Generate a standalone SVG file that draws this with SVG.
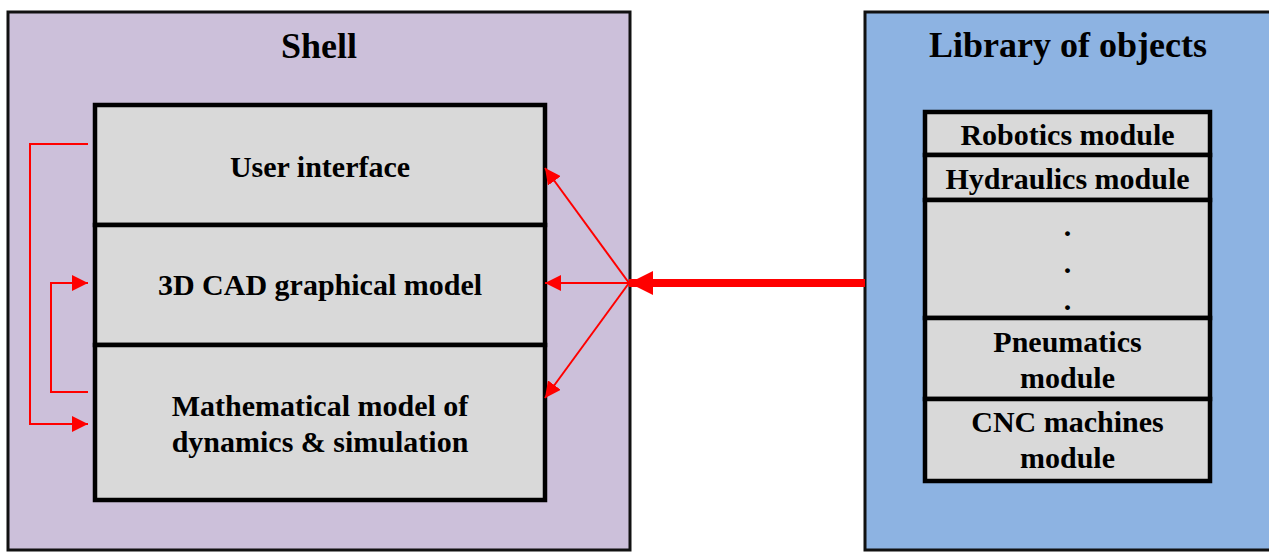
<svg xmlns="http://www.w3.org/2000/svg" width="1269" height="552" viewBox="0 0 1269 552">
  <style>
    .frame { stroke: #111; stroke-width: 3; }
    .shell { fill: #ccc0da; }
    .lib { fill: #8db3e2; }
    .cell { fill: #d9d9d9; stroke: #000; stroke-width: 4.5; }
    .sep { stroke: #000; stroke-width: 4.5; }
    .title { font-family: "Liberation Serif", "Times New Roman", serif; font-weight: bold; font-size: 36px; text-anchor: middle; fill: #000; }
    .label { font-family: "Liberation Serif", "Times New Roman", serif; font-weight: bold; font-size: 30px; text-anchor: middle; fill: #000; }
    .link { fill: none; stroke: #ff0000; stroke-width: 2; }
    .main { fill: none; stroke: #ff0000; stroke-width: 8; }
  </style>
  <defs>
    <marker id="head" viewBox="0 0 16 16" refX="16" refY="8" markerWidth="16" markerHeight="16" markerUnits="userSpaceOnUse" orient="auto">
      <path d="M0,0 L16,8 L0,16 z" fill="#ff0000"/>
    </marker>
    <marker id="bighead" viewBox="0 0 24 24" refX="24" refY="12" markerWidth="24" markerHeight="24" markerUnits="userSpaceOnUse" orient="auto">
      <path d="M0,0 L24,12 L0,24 z" fill="#ff0000"/>
    </marker>
  </defs>

  <rect width="1269" height="552" fill="#ffffff"/>

  <!-- Shell container -->
  <g id="shell">
    <rect class="shell frame" x="8" y="12" width="622" height="538"/>
    <text class="title" x="319" y="58">Shell</text>
  </g>

  <!-- Shell layers -->
  <g id="user-interface">
    <rect class="cell" x="95" y="105" width="450" height="120"/>
    <text class="label" x="320" y="177">User interface</text>
  </g>
  <g id="cad-model">
    <rect class="cell" x="95" y="225" width="450" height="120"/>
    <text class="label" x="320" y="295">3D CAD graphical model</text>
  </g>
  <g id="math-model">
    <rect class="cell" x="95" y="345" width="450" height="155"/>
    <text class="label" x="320" y="416">Mathematical model of</text>
    <text class="label" x="320" y="452">dynamics &amp; simulation</text>
  </g>

  <!-- Library container -->
  <g id="library">
    <rect class="lib frame" x="865" y="12" width="410" height="538"/>
    <text class="title" x="1068" y="57">Library of objects</text>
  </g>

  <!-- Library modules -->
  <g id="robotics">
    <rect class="cell" x="925" y="112" width="285" height="43"/>
    <text class="label" x="1067.5" y="145">Robotics module</text>
  </g>
  <g id="hydraulics">
    <rect class="cell" x="925" y="155" width="285" height="45"/>
    <text class="label" x="1067.5" y="189">Hydraulics module</text>
  </g>
  <g id="more-modules">
    <rect class="cell" x="925" y="200" width="285" height="118"/>
    <text class="label" x="1067.5" y="236">.</text>
    <text class="label" x="1067.5" y="273">.</text>
    <text class="label" x="1067.5" y="310">.</text>
  </g>
  <g id="pneumatics">
    <rect class="cell" x="925" y="318" width="285" height="81"/>
    <text class="label" x="1067.5" y="352">Pneumatics</text>
    <text class="label" x="1067.5" y="388">module</text>
  </g>
  <g id="cnc">
    <rect class="cell" x="925" y="399" width="285" height="82"/>
    <text class="label" x="1067.5" y="432">CNC machines</text>
    <text class="label" x="1067.5" y="468">module</text>
  </g>

  <!-- Connectors -->
  <g id="connectors">
    <path class="link" d="M88,144 H30 V424 H88" marker-end="url(#head)"/>
    <path class="link" d="M88,392 H51 V283 H88" marker-end="url(#head)"/>
    <path class="link" d="M629,283 L545,168" marker-end="url(#head)"/>
    <path class="link" d="M629,283 L545,283" marker-end="url(#head)"/>
    <path class="link" d="M629,283 L545,398" marker-end="url(#head)"/>
    <path class="main" d="M865,283 H629" marker-end="url(#bighead)"/>
  </g>
</svg>
